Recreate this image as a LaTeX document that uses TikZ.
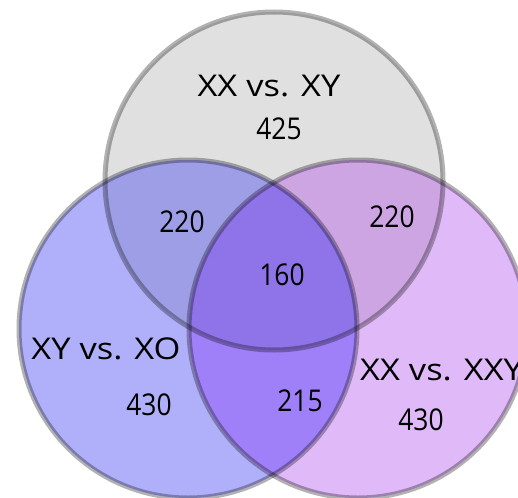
\documentclass[tikz,border=0pt]{standalone}
\usepackage{fontspec}
\setmainfont{Open Sans}
\definecolor{topc}{RGB}{224,224,224}
\definecolor{leftc}{RGB}{176,176,250}
\definecolor{rightc}{RGB}{224,186,248}
\definecolor{tlc}{RGB}{158,158,230}
\definecolor{trc}{RGB}{204,165,226}
\definecolor{lrc}{RGB}{160,128,248}
\definecolor{allc}{RGB}{142,116,232}
\tikzset{
  lbl/.style={inner sep=0pt, font=\fontsize{30}{34}\selectfont},
  num/.style={lbl, xscale=0.88},
  setname/.style={lbl, xscale=1.15},
  rim/.style={draw=black, draw opacity=0.3, line width=5pt}
}
\begin{document}
\begin{tikzpicture}[x=1pt,y=-1pt]
  \useasboundingbox (0,0) rectangle (518,497);
  \clip (0,0) rectangle (518,497);
  \fill[white] (0,0) rectangle (518,497);
  \coordinate (ct) at (274,181);
  \coordinate (cl) at (188,329);
  \coordinate (cr) at (358,329);
  \def\rr{169pt}
  % single sets
  \fill[topc] (ct) circle[radius=\rr];
  \fill[leftc] (cl) circle[radius=\rr];
  \fill[rightc] (cr) circle[radius=\rr];
  % pairwise overlaps
  \begin{scope}
    \clip (ct) circle[radius=\rr];
    \fill[tlc] (cl) circle[radius=\rr];
    \fill[trc] (cr) circle[radius=\rr];
  \end{scope}
  \begin{scope}
    \clip (cl) circle[radius=\rr];
    \fill[lrc] (cr) circle[radius=\rr];
    \clip (cr) circle[radius=\rr];
    \fill[allc] (ct) circle[radius=\rr];
  \end{scope}
  % outlines
  \draw[rim] (ct) circle[radius=\rr];
  \draw[rim] (cl) circle[radius=\rr];
  \draw[rim] (cr) circle[radius=\rr];
  % labels
  \node[setname] (nt) at (269,86) {XX vs. XY};
  \node[num] (vt) at (279,129) {425};
  \node[num] (vtl) at (182,222) {220};
  \node[num] (vtr) at (392,217) {220};
  \node[num] (vall) at (282,275) {160};
  \node[setname] (nl) at (106,349) {XY vs. XO};
  \node[num] (vl) at (149,405) {430};
  \node[num] (vlr) at (300,401) {215};
  \node[setname, anchor=west] (nr) at (360,370) {XX vs. XXY};
  \node[num] (vr) at (421,420) {430};
\end{tikzpicture}
\end{document}
